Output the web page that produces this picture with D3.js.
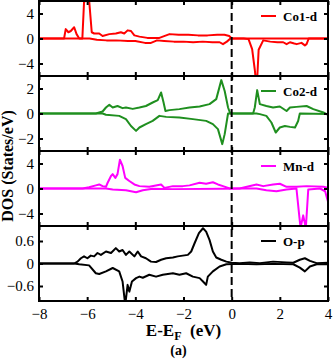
<!DOCTYPE html>
<html>
<head>
<meta charset="utf-8">
<script src="https://cdn.jsdelivr.net/npm/d3@7"></script>
<style>
  body { margin: 0; background: #fff; }
  svg { display: block; }
</style>
</head>
<body>
<div id="dos"></div>
<script>
// energies (eV) and DOS values, spin up > 0, spin down < 0
var co1UpE = [-8, -6.96, -6.89, -6.78, -6.68, -6.54, -6.44, -6.33, -6.2, -6.13, -5.99, -5.92, -5.81, -5.71, -5.5, -5.36, -5.08, -4.81, -4.6, -4.46, -4.32, -4.18, -4.04, -3.83, -3.5, -3.2, -3.0, -2.58, -2.2, -1.8, -1.4, -1.0, -0.6, -0.3, -0.1, 0.0, 4];
var co1Up  = [0, 0, 1.5, 1.0, 1.2, 1.8, 0.7, 0, 0, 5.8, 6.4, 6.2, 1.0, 0.8, 0.8, 0.4, 0.7, 0.8, 1.0, 0.8, 1.3, 1.2, 0.5, 0.3, 0.1, 0.1, 0.1, 0.7, 0.6, 0.6, 0.5, 0.5, 0.6, 0.6, 0.4, 0, 0];
var co1DnE = [-8, -5.9, -5.6, -5.2, -4.8, -4.3, -4.0, -3.6, -3.35, -3.1, -2.8, -2.4, -2.0, -1.6, -1.2, -0.8, -0.5, -0.36, -0.2, -0.05, 0.5, 0.7, 0.85, 0.96, 1.0, 1.06, 1.12, 1.31, 1.6, 1.9, 2.14, 2.28, 2.42, 2.6, 2.7, 2.9, 3.04, 3.11, 3.2, 4];
var co1Dn  = [0, 0, -0.2, -0.3, -0.3, -0.4, -0.4, -0.7, -0.7, -0.3, -0.4, -0.5, -0.5, -0.6, -0.5, -0.6, -0.6, -0.9, -0.5, 0, 0, -0.1, -1.7, -5, -6.5, -6.5, -1.8, -0.3, -0.5, -0.6, -0.6, -0.9, -0.6, -0.8, -0.9, -0.7, -1.1, -0.9, 0, 0];

var co2UpE = [-8, -5.64, -5.36, -5.22, -5.08, -4.94, -4.74, -4.53, -4.39, -4.11, -3.83, -3.56, -3.28, -3.07, -2.93, -2.83, -2.75, -2.58, -2.17, -1.75, -1.33, -0.92, -0.64, -0.43, -0.29, -0.15, -0.06, 0.89, 0.96, 1.06, 1.17, 1.44, 1.72, 2.0, 2.28, 2.42, 2.69, 3.11, 3.39, 3.81, 4];
var co2Up  = [0, 0, 0.16, 0.48, 0.7, 0.48, 0.6, 0.43, 0.48, 0.37, 0.48, 0.6, 0.88, 1.07, 1.68, 0.9, 0.2, 0.27, 0.35, 0.48, 0.56, 0.75, 1.15, 2.67, 1.8, 0.48, 0, 0, 0.48, 1.87, 0.75, 0.6, 0.48, 0.56, 0.2, 0.48, 0.53, 0.6, 0.35, 0.08, -0.1];
var co2DnE = [-8, -5.36, -5.22, -4.67, -4.39, -4.18, -3.97, -3.83, -3.56, -3.28, -3.0, -2.72, -2.17, -1.61, -1.06, -0.78, -0.57, -0.39, -0.29, -0.15, 1.03, 1.17, 1.44, 1.65, 1.83, 2.0, 2.21, 2.42, 2.63, 2.76, 2.83, 4];
var co2Dn  = [0, 0, -0.1, -0.19, -0.45, -1.0, -1.39, -1.12, -0.85, -0.59, -0.19, -0.27, -0.32, -0.45, -0.59, -0.85, -1.25, -2.45, -1.65, 0, 0, -0.05, -0.19, -0.72, -1.52, -1.12, -1.0, -1.07, -1.12, -0.6, 0, -0.05];

var mnUpE = [-8, -6.19, -5.92, -5.64, -5.5, -5.36, -5.22, -5.15, -5.01, -4.94, -4.83, -4.74, -4.64, -4.53, -4.42, -4.25, -4.04, -3.83, -3.42, -2.93, -2.79, -2.44, -2.03, -1.75, -1.33, -1.06, -0.78, -0.57, -0.36, -0.08, 0.33, 1.03, 1.31, 1.72, 2.0, 2.28, 2.69, 3.11, 3.81, 4];
var mnUp  = [0, 0, 0.2, 0.5, 0.65, 0.38, 0.27, 0.92, 2.0, 2.3, 1.7, 2.3, 4.6, 3.6, 1.7, 1.2, 0.65, 0.38, 0.27, 0.65, 0.1, 0.38, 0.38, 0.5, 0.92, 0.76, 1.0, 0.65, 0.38, 0, 0, 0.65, 0.38, 0.65, 0.76, 0.27, 0.27, 0.38, 0.27, 0.1];
var mnDnE = [-8, -5.22, -4.94, -4.39, -3.97, -3.69, -3.28, -2.44, -0.36, 0.33, 1.03, 1.44, 1.86, 2.28, 2.69, 2.81, 2.86, 2.97, 3.08, 3.18, 3.67, 3.88, 4];
var mnDn  = [0, 0, -0.16, -0.27, -0.6, -0.27, -0.05, -0.1, -0.05, 0, 0, -0.27, -0.44, -0.16, 0, -4.5, -6.3, -4.3, -6.3, -0.16, 0, -0.44, -2.1];

var opUpE = [-8, -6.54, -6.40, -6.26, -6.13, -5.99, -5.85, -5.71, -5.57, -5.43, -5.22, -5.01, -4.81, -4.67, -4.53, -4.39, -4.25, -4.04, -3.90, -3.76, -3.56, -3.35, -3.14, -2.93, -2.72, -2.44, -2.24, -2.03, -1.82, -1.68, -1.54, -1.36, -1.19, -1.06, -0.92, -0.78, -0.64, -0.43, -0.22, 0.0, 0.33, 0.75, 1.17, 1.72, 2.28, 2.56, 2.83, 3.04, 3.25, 3.53, 4];
var opUp  = [0, 0, 0.05, 0.14, 0.19, 0.14, 0.21, 0.19, 0.28, 0.23, 0.32, 0.28, 0.41, 0.32, 0.36, 0.23, 0.32, 0.19, 0.32, 0.19, 0.14, 0.05, 0.04, 0.1, 0.14, 0.16, 0.19, 0.21, 0.23, 0.32, 0.54, 0.81, 0.94, 0.85, 0.63, 0.32, 0.16, 0.1, 0.05, 0.02, 0.01, 0.03, 0.01, 0.05, 0.03, 0.02, 0.1, 0.14, 0.07, 0.01, 0.02];
var opDnE = [-8, -6.54, -6.33, -5.92, -5.64, -5.50, -5.22, -4.94, -4.67, -4.53, -4.42, -4.32, -4.25, -4.14, -3.97, -3.83, -3.69, -3.42, -3.14, -2.86, -2.44, -2.17, -1.89, -1.61, -1.33, -1.19, -1.06, -0.99, -0.78, -0.50, -0.22, 0.33, 1.03, 1.72, 2.56, 2.83, 3.04, 3.25, 3.53, 4];
var opDn  = [0, 0, -0.02, -0.05, -0.26, -0.28, -0.21, -0.12, -0.21, -0.48, -1.1, -0.57, -0.75, -0.48, -0.39, -0.35, -0.38, -0.3, -0.35, -0.3, -0.26, -0.3, -0.26, -0.35, -0.39, -0.48, -0.57, -0.35, -0.21, -0.08, -0.02, -0.01, -0.02, -0.01, -0.02, -0.11, -0.21, -0.08, -0.02, -0.02];

// panel names, colours, y ranges and tick labels
var names = ["Co1-d", "Co2-d", "Mn-d", "O-p"];
var colors = ["#ff0000", "#1f8f1f", "#ff00ff", "#000000"];
var yDomains = [[-6, 6], [-3, 3], [-6, 6], [-1, 1]];
var yTicks = [[-4, 0, 4], [-2, 0, 2], [-4, 0, 4], [-0.6, 0, 0.6]];
var yTickLabels = [["\u22124", "0", "4"], ["\u22122", "0", "2"], ["\u22124", "0", "4"], ["\u22120.6", "0", "0.6"]];
var xTicks = [-8, -6, -4, -2, 0, 2, 4];
var xTickLabels = ["\u22128", "\u22126", "\u22124", "\u22122", "0", "2", "4"];

var curves = [
  [[co1UpE, co1Up], [co1DnE, co1Dn]],
  [[co2UpE, co2Up], [co2DnE, co2Dn]],
  [[mnUpE, mnUp], [mnDnE, mnDn]],
  [[opUpE, opUp], [opDnE, opDn]]
];

var serif = "'Liberation Serif', 'Times New Roman', serif";

var margin = {top: 1, right: 5, bottom: 59, left: 39},
    width = 333 - margin.left - margin.right,
    height = 360 - margin.top - margin.bottom,
    panelH = height / 4;

var svg = d3.select("#dos")
  .append("svg")
    .attr("width", 333)
    .attr("height", 360)
  .append("g")
    .attr("transform", "translate(" + margin.left + "," + margin.top + ")");

var x = d3.scaleLinear()
  .domain([-8, 4])
  .range([0, width]);

svg.append("clipPath")
    .attr("id", "clip")
  .append("rect")
    .attr("width", width)
    .attr("height", panelH);

names.forEach(function(name, i) {
  var g = svg.append("g")
    .attr("transform", "translate(0," + (i * panelH) + ")");

  var y = d3.scaleLinear()
    .domain(yDomains[i])
    .range([panelH, 0]);

  var line = d3.line()
    .x(function(d) { return x(d[0]); })
    .y(function(d) { return y(d[1]); });

  // spin up and spin down
  var plot = g.append("g").attr("clip-path", "url(#clip)");
  curves[i].forEach(function(c) {
    plot.append("path")
      .datum(c[0].map(function(e, k) { return [e, c[1][k]]; }))
      .attr("fill", "none")
      .attr("stroke", colors[i])
      .attr("stroke-width", 2)
      .attr("stroke-linejoin", "round")
      .attr("d", line);
  });

  // inner ticks all round
  g.append("g")
    .call(d3.axisLeft(y).tickValues(yTicks[i]).tickSize(-4).tickSizeOuter(0).tickPadding(5)
      .tickFormat(function(d, k) { return yTickLabels[i][k]; }));
  g.append("g")
    .attr("transform", "translate(" + width + ",0)")
    .call(d3.axisRight(y).tickValues(yTicks[i]).tickSize(-4).tickSizeOuter(0).tickFormat(""));
  g.append("g")
    .call(d3.axisTop(x).tickValues(xTicks).tickSize(-4).tickSizeOuter(0).tickFormat(""));
  var bottom = d3.axisBottom(x).tickValues(xTicks).tickSize(-4).tickSizeOuter(0).tickPadding(7)
    .tickFormat(function(d, k) { return i < 3 ? "" : xTickLabels[k]; });
  g.append("g")
    .attr("transform", "translate(0," + panelH + ")")
    .call(bottom);

  // legend
  g.append("line")
    .attr("x1", 222).attr("x2", 237)
    .attr("y1", 15).attr("y2", 15)
    .attr("stroke", colors[i])
    .attr("stroke-width", 2);
  g.append("text")
    .attr("x", 244)
    .attr("y", 19.5)
    .style("font-family", serif)
    .style("font-weight", "bold")
    .style("font-size", "13px")
    .text(name);

  // frame
  g.append("rect")
    .attr("width", width)
    .attr("height", panelH)
    .attr("fill", "none")
    .attr("stroke", "#000")
    .attr("stroke-width", 2);
});

svg.selectAll(".domain").remove();
svg.selectAll(".tick line").attr("stroke", "#000").attr("stroke-width", 2);
svg.selectAll(".tick text")
  .attr("fill", "#000")
  .style("font-family", serif)
  .style("font-size", "15px");

// fermi level
svg.append("line")
  .attr("x1", x(0)).attr("x2", x(0))
  .attr("y1", 0).attr("y2", height)
  .attr("stroke", "#000")
  .attr("stroke-width", 2)
  .attr("stroke-dasharray", "8,4");

// axis titles
var xLabel = svg.append("text")
  .attr("x", width / 2)
  .attr("y", 335)
  .attr("text-anchor", "middle")
  .style("font-family", serif)
  .style("font-weight", "bold")
  .style("font-size", "17px");
xLabel.append("tspan").text("E-E");
xLabel.append("tspan").attr("dy", 4).style("font-size", "12px").text("F");
xLabel.append("tspan").attr("dy", -4).text("\u00a0\u00a0(eV)");

svg.append("text")
  .attr("transform", "translate(" + (13 - margin.left) + ",165) rotate(-90)")
  .attr("text-anchor", "middle")
  .style("font-family", serif)
  .style("font-weight", "bold")
  .style("font-size", "16px")
  .text("DOS (States/eV)");

svg.append("text")
  .attr("x", width / 2 - 5)
  .attr("y", 354)
  .attr("text-anchor", "middle")
  .style("font-family", serif)
  .style("font-weight", "bold")
  .style("font-size", "14px")
  .text("(a)");
</script>
</body>
</html>
